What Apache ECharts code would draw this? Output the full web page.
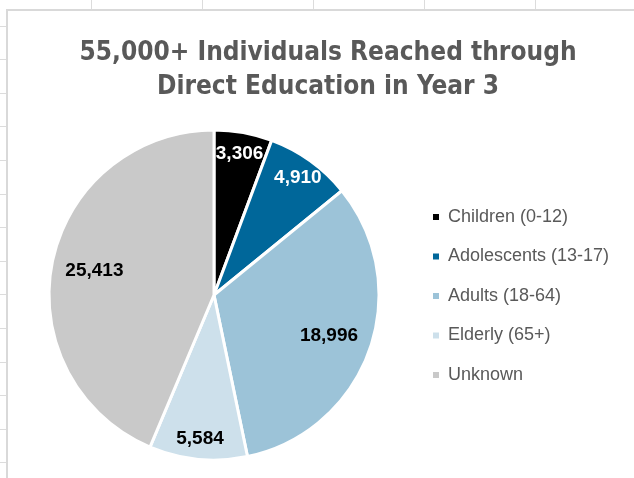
<!DOCTYPE html>
<html>
<head>
<meta charset="utf-8">
<script src="https://cdn.jsdelivr.net/npm/echarts@6/dist/echarts.min.js"></script>
<style>
  html, body { margin: 0; padding: 0; width: 634px; height: 478px; overflow: hidden; }
  body {
    background-color: #ffffff;
    background-image:
      repeating-linear-gradient(to right, transparent 0px, transparent 91px, #dcdcdc 91px, #dcdcdc 92px, transparent 92px, transparent 111px),
      repeating-linear-gradient(to bottom, transparent 0px, transparent 25.6px, #dcdcdc 25.6px, #dcdcdc 26.6px, transparent 26.6px, transparent 33.6px);
  }
  #frame {
    position: absolute; left: 6px; top: 9px; width: 640px; height: 480px;
    background: #ffffff; border-left: 2px solid #d9d9d9; border-top: 2px solid #d9d9d9;
  }
  #chart { position: absolute; left: 0; top: 0; width: 634px; height: 478px; }
</style>
</head>
<body>
<div id="frame"></div>
<div id="chart"></div>
<script>
const categories = ['Children (0-12)', 'Adolescents (13-17)', 'Adults (18-64)', 'Elderly (65+)', 'Unknown'];
const values = [3306, 4910, 18996, 5584, 25413];
const colors = ['#000000', '#00679a', '#9cc3d8', '#cde0eb', '#c9c9c9'];
const labelColors = ['#ffffff', '#ffffff', '#000000', '#000000', '#000000'];
// which labels sit near the rim (small slices) vs. nearer the centre (large slices)
const outerLabel = [true, true, false, true, false];
const titleLines = ['55,000+ Individuals Reached through', 'Direct Education in Year 3'];

const chart = echarts.init(document.getElementById('chart'), null, { renderer: 'canvas' });

const pieData = categories.map((name, i) => ({
  name: name,
  value: values[i],
  itemStyle: { color: colors[i] }
}));
const labelData = (outer) => categories.map((name, i) => ({
  name: name,
  value: values[i],
  label: { show: outerLabel[i] === outer, color: labelColors[i] }
}));

const labelStyle = {
  show: true,
  position: 'inside',
  formatter: p => p.value.toLocaleString('en-US'),
  fontFamily: '"Liberation Sans", "Open Sans", sans-serif',
  fontWeight: 'bold',
  fontSize: 19
};

chart.setOption({
  backgroundColor: 'transparent',
  animation: false,
  title: {
    text: titleLines.join('\n'),
    left: 323,
    textAlign: 'center',
    top: 31,
    textStyle: {
      fontFamily: '"Liberation Sans Narrow", "DejaVu Sans Condensed", "Roboto", sans-serif',
      fontWeight: 'bold',
      fontSize: 26,
      lineHeight: 34,
      color: '#595959'
    }
  },
  legend: {
    orient: 'vertical',
    left: 426,
    top: 202,
    itemWidth: 8,
    itemHeight: 8,
    itemGap: 19.5,
    icon: 'rect',
    data: categories,
    textStyle: {
      fontFamily: '"Liberation Sans", "Open Sans", sans-serif',
      fontSize: 18,
      lineHeight: 20,
      color: '#595959',
      padding: [0, 0, 0, 3]
    }
  },
  series: [
    {
      type: 'pie',
      center: [214, 295],
      radius: [0, 165],
      startAngle: 90,
      clockwise: true,
      silent: true,
      label: { show: false },
      labelLine: { show: false },
      itemStyle: { borderColor: '#ffffff', borderWidth: 3 },
      data: pieData
    },
    {
      type: 'pie',
      center: [214, 295],
      radius: [117, 165],
      startAngle: 90,
      clockwise: true,
      silent: true,
      itemStyle: { color: 'rgba(0,0,0,0)', borderWidth: 0 },
      label: labelStyle,
      labelLine: { show: false },
      data: labelData(true)
    },
    {
      type: 'pie',
      center: [214, 295],
      radius: [73, 165],
      startAngle: 90,
      clockwise: true,
      silent: true,
      itemStyle: { color: 'rgba(0,0,0,0)', borderWidth: 0 },
      label: labelStyle,
      labelLine: { show: false },
      data: labelData(false)
    }
  ]
});
</script>
</body>
</html>
